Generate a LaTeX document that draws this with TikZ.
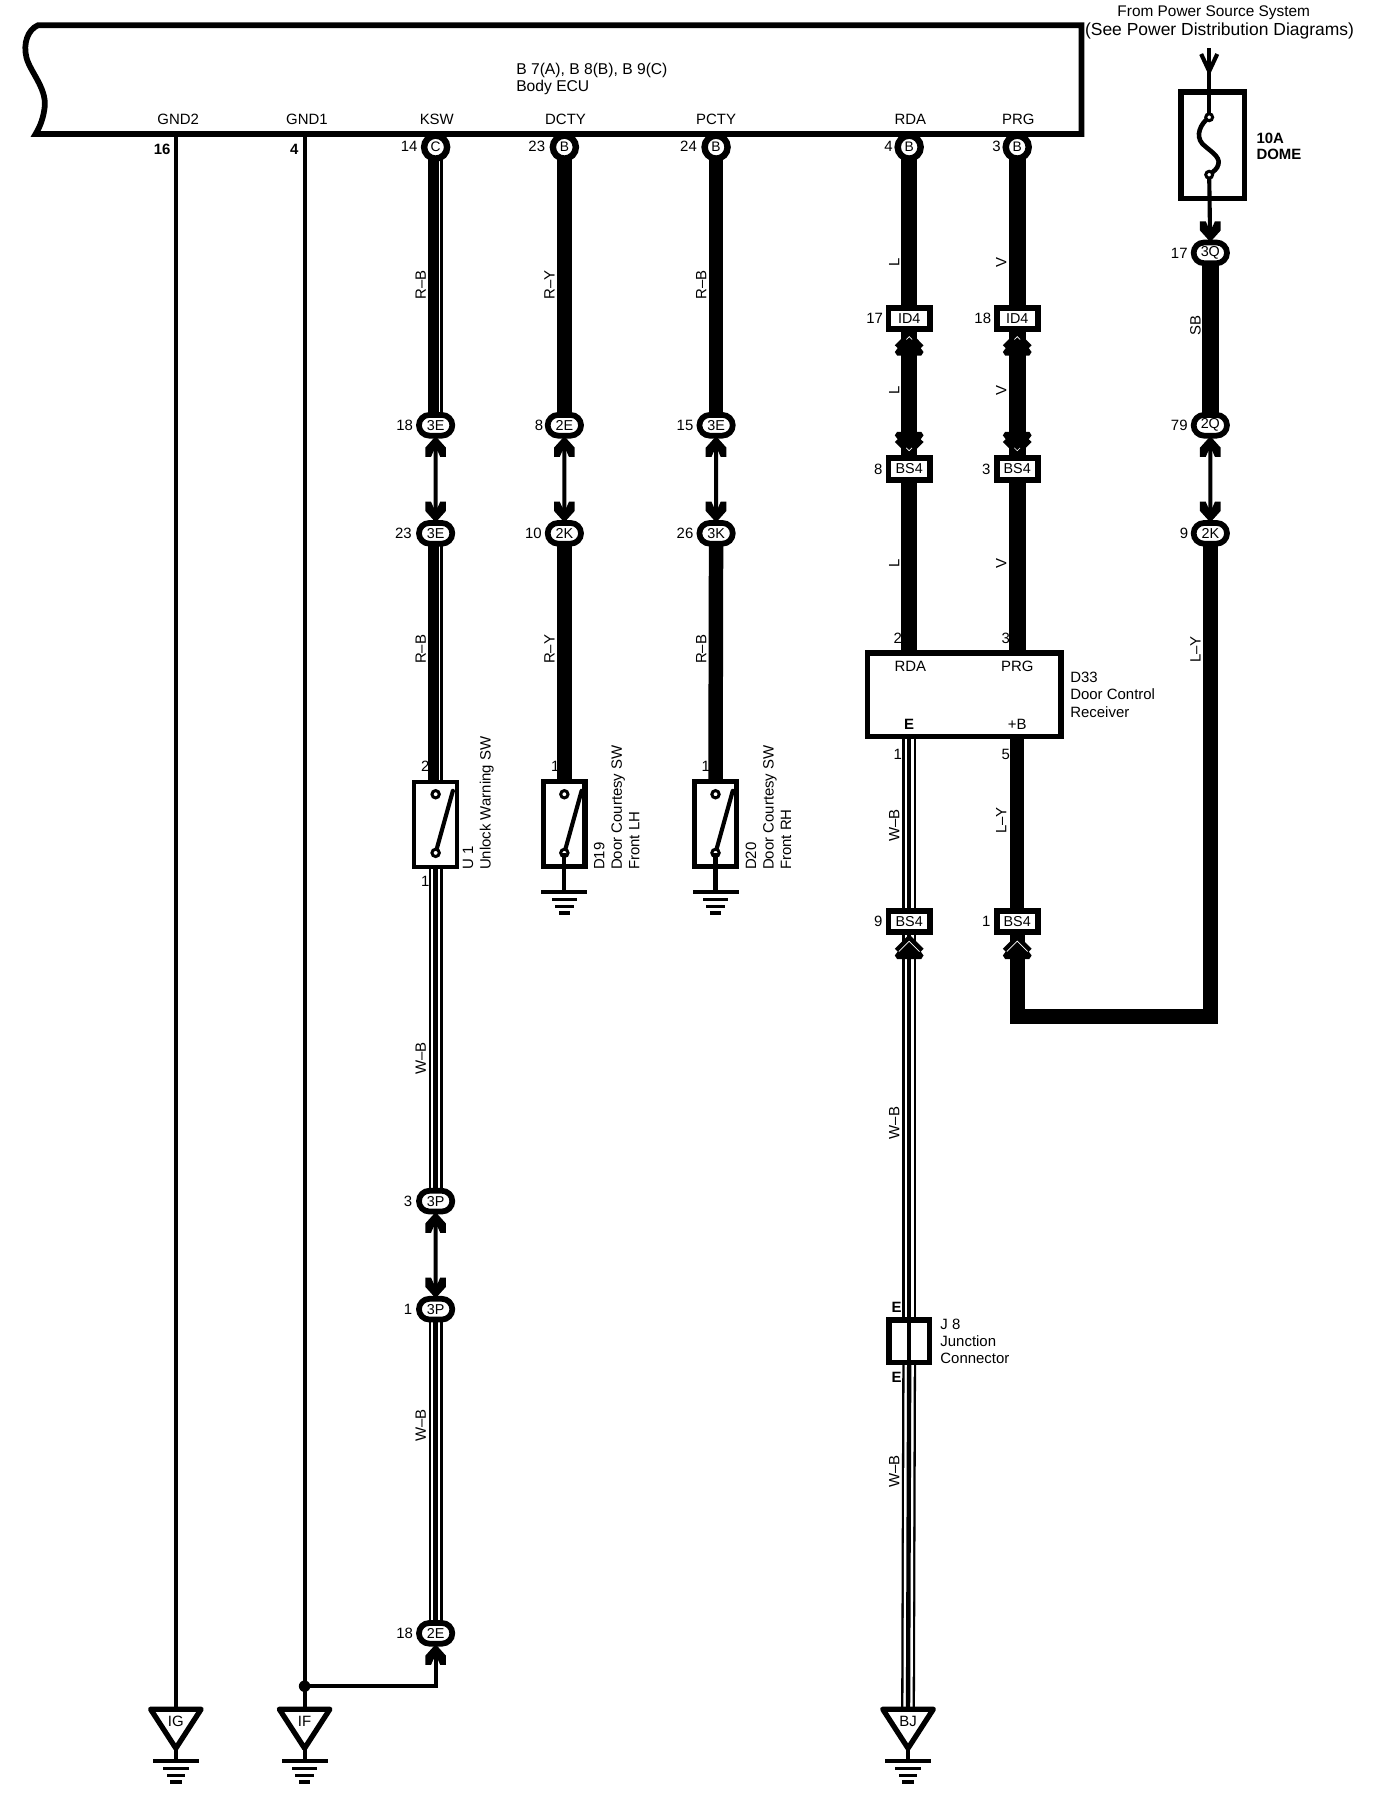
\documentclass[tikz,border=0pt]{standalone}
\usepackage{fontspec}
\setmainfont{Liberation Sans}
\usetikzlibrary{backgrounds,shapes.misc}

\tikzset{
    txt/.style={inner sep=0pt,font=\fontsize{13}{15.2}\selectfont},
    wirelbl/.style={txt,rotate=90},
    oval/.style={rounded rectangle,draw,fill=white,line width=5pt,minimum width=29pt,minimum height=18pt,inner sep=0pt,font=\fontsize{12.5}{14}\selectfont},
    disc/.style={circle,draw,fill=white,line width=5.6pt,minimum size=20pt,inner sep=0pt,font=\fontsize{12}{14}\selectfont},
    plug/.style={rectangle,draw,fill=white,line width=5.2pt,minimum width=36pt,minimum height=18.5pt,inner sep=0pt,font=\fontsize{12.5}{14}\selectfont},
    swbox/.style={rectangle,draw,line width=4.6pt,minimum width=36pt,minimum height=74pt,inner sep=0pt},
    thinwire/.style={line width=3.6pt},
    solidwire/.style={line width=12.6pt},
    heavywire/.style={line width=14.4pt},
    rbwire/.style={line width=13pt,postaction={draw=white,line width=1.2pt,transform canvas={xshift=3.4pt}}},
    wbwire/.style={line width=12pt,postaction={draw=white,line width=8pt},postaction={draw=black,line width=3.8pt}},
    groundbars/.pic={
        \fill (-20,-1.5) rectangle (20,1.5);
        \fill (-11,5.2) rectangle (11,8);
        \fill (-8,11) rectangle (8,14);
        \fill (-5,17) rectangle (5,20);
    },
    swblade/.pic={
        \draw[line width=3.6pt,line cap=round] (0,51) -- (15,-3);
        \draw[line width=2.6pt,fill=white] (0,0) circle (3.2pt);
        \draw[line width=2.6pt,fill=white] (0,51) circle (3.2pt);
    },
    tipfork/.pic={
        \fill (0,-2) -- (9,8) -- (9,16) -- (4,16) -- (1.8,11) -- (-1.8,11) -- (-4,16) -- (-9,16) -- (-9,8) -- cycle;
    },
    tipdbl/.pic={
        \fill (0,-1) -- (12.5,11.6) -- (10,14) -- (12.5,17.4) -- (10.5,20.5) -- (-10.5,20.5) -- (-12.5,17.4) -- (-10,14) -- (-12.5,11.6) -- cycle;
        \draw[white,line width=.6pt] (-2.5,6.5) -- (0,4) -- (2.5,6.5);
    },
    tipbig/.pic={
        \fill (0,-1) -- (12.5,11.6) -- (10,14) -- (12.5,17.4) -- (10.5,20.5) -- (-10.5,20.5) -- (-12.5,17.4) -- (-10,14) -- (-12.5,11.6) -- cycle;
        \draw[white,line width=.6pt] (-9,14) -- (0,5) -- (9,14);
    },
    trisym/.style={line width=4.6pt,line join=round}
}

\begin{document}
\begin{tikzpicture}[x=1pt,y=-1pt]
    \useasboundingbox (0,0) rectangle (1197,1569.5);

    % Body ECU
    \draw[line width=5pt,line join=miter] (33,22) .. controls (24,26) and (20,38) .. (23,50)
        .. controls (26,62) and (40,76) .. (39,92) .. controls (38,102) and (35,110) .. (31,116.5)
        -- (941,116.5) -- (941,22) -- cycle;
    \node[txt,anchor=west,font=\fontsize{13.6}{15.2}\selectfont,align=left] (ecutitle) at (449,68.5) {B 7(A), B 8(B), B 9(C)\\Body ECU};
    \node[txt] (pGndb) at (155,104) {GND2};
    \node[txt] (pGnda) at (267,104) {GND1};
    \node[txt] (pKsw) at (380,104) {KSW};
    \node[txt] (pDcty) at (492,104) {DCTY};
    \node[txt] (pPcty) at (623,104) {PCTY};
    \node[txt] (pRda) at (792,104) {RDA};
    \node[txt] (pPrg) at (886,104) {PRG};

    % Power source
    \node[txt,font=\fontsize{13.4}{15}\selectfont] (srca) at (1056,11) {From Power Source System};
    \node[txt,font=\fontsize{15.2}{15}\selectfont] (srcb) at (1061,27) {(See Power Distribution Diagrams)};
    \node[rectangle,draw,line width=4.6pt,minimum width=55pt,minimum height=93pt,inner sep=0pt] (fuse) at (1055,126.5) {};
    \node[txt,anchor=west,align=left,font=\fontsize{13}{14}\selectfont\bfseries] (fusetxt) at (1093,127) {10A\\DOME};
    \coordinate (pwrtop) at (1052,42);
    \coordinate (fusea) at (1052,102);
    \coordinate (fuseb) at (1052,152);
    \draw[thinwire] (pwrtop) -- (fusea);
    \draw[thinwire] (1045,47) -- (1052,62) -- (1059,47);
    \draw[line width=4pt] (fusea) .. controls (1044,108) and (1040,118) .. (1046,125)
        .. controls (1052,131) and (1062,136) .. (1060,143) .. controls (1059,147) and (1056,149) .. (fuseb);
    \draw[line width=2.6pt,fill=white] (fusea) circle (3pt);
    \draw[line width=2.6pt,fill=white] (fuseb) circle (3pt);

    % Connectors on the ECU
    \node[disc] (cKsw) at (379,128) {C};
    \node[disc] (cDcty) at (491,128) {B};
    \node[disc] (cPcty) at (623,128) {B};
    \node[disc] (cRda) at (791,128) {B};
    \node[disc] (cPrg) at (885,128) {B};
    \node[txt] (nGndb) at (141,130) {\bfseries 16};
    \node[txt] (nGnda) at (256,130) {\bfseries 4};
    \node[txt] (nKsw) at (356,127) {14};
    \node[txt] (nDcty) at (467,127) {23};
    \node[txt] (nPcty) at (599,127) {24};
    \node[txt] (nRda) at (773,127) {4};
    \node[txt] (nPrg) at (867,127) {3};

    % Inline connectors
    \node[oval] (kswa) at (379,370) {3E};
    \node[oval] (kswb) at (379,464) {3E};
    \node[oval] (dctya) at (491,370) {2E};
    \node[oval] (dctyb) at (491,464) {2K};
    \node[oval] (pctya) at (623,370) {3E};
    \node[oval] (pctyb) at (623,464) {3K};
    \node[oval] (kswc) at (379,1045) {3P};
    \node[oval] (kswd) at (379,1139) {3P};
    \node[oval] (kswe) at (379,1421) {2E};
    \node[oval] (domea) at (1053,220) {3Q};
    \node[oval] (domeb) at (1053,370) {2Q};
    \node[oval] (domec) at (1053,464) {2K};
    \node[txt] (nKswa) at (352,370) {18};
    \node[txt] (nKswb) at (351,464) {23};
    \node[txt] (nDctya) at (469,370) {8};
    \node[txt] (nDctyb) at (464,464) {10};
    \node[txt] (nPctya) at (596,370) {15};
    \node[txt] (nPctyb) at (596,464) {26};
    \node[txt] (nKswc) at (355,1045) {3};
    \node[txt] (nKswd) at (355,1139) {1};
    \node[txt] (nKswe) at (352,1421) {18};
    \node[txt] (nDomea) at (1026,220) {17};
    \node[txt] (nDomeb) at (1026,370) {79};
    \node[txt] (nDomec) at (1030,464) {9};

    \node[plug] (rdaa) at (791,277) {ID4};
    \node[plug] (prga) at (885,277) {ID4};
    \node[plug] (rdab) at (791,408) {BS4};
    \node[plug] (prgb) at (885,408) {BS4};
    \node[plug] (rdac) at (791,802) {BS4};
    \node[plug] (prgc) at (885,802) {BS4};
    \node[txt] (nRdaa) at (761,277) {17};
    \node[txt] (nPrga) at (855,277) {18};
    \node[txt] (nRdab) at (764,408) {8};
    \node[txt] (nPrgb) at (858,408) {3};
    \node[txt] (nRdac) at (764,802) {9};
    \node[txt] (nPrgc) at (858,802) {1};

    % Door Control Receiver
    \node[rectangle,draw,fill=white,line width=4.6pt,minimum width=168pt,minimum height=73pt,inner sep=0pt] (recv) at (839,604.5) {};
    \node[txt] (recvrda) at (792,580) {RDA};
    \node[txt] (recvprg) at (885,580) {PRG};
    \node[txt] (recve) at (791,630) {\bfseries E};
    \node[txt] (recvb) at (885,630) {+B};
    \node[txt,anchor=west,align=left] (recvtxt) at (931,604.5) {D33\\Door Control\\Receiver};
    \node[txt] (nRecva) at (781,555) {2};
    \node[txt] (nRecvb) at (875,555) {3};
    \node[txt] (nRecvc) at (781,656) {1};
    \node[txt] (nRecvd) at (875,656) {5};
    \coordinate (recvouta) at (791,643);
    \coordinate (recvoutb) at (885,643);

    % Switches
    \node[swbox,line width=3.4pt,minimum width=37pt] (swu) at (379,717) {};
    \node[swbox] (swd) at (491,717) {};
    \node[swbox] (swe) at (622.5,717) {};
    \pic at (379,691) {swblade};
    \pic at (491,691) {swblade};
    \pic at (622.5,691) {swblade};
    \node[txt] (nSwa) at (370,667) {2};
    \node[txt] (nSwb) at (370,767) {1};
    \node[txt] (nSwd) at (483,667) {1};
    \node[txt] (nSwe) at (614,667) {1};
    \node[wirelbl,anchor=north west,align=left] (swutxt) at (402.5,757) {U 1\\Unlock Warning SW};
    \node[wirelbl,anchor=north west,align=left] (swdtxt) at (516.5,757) {D19\\Door Courtesy SW\\Front LH};
    \node[wirelbl,anchor=north west,align=left] (swetxt) at (648.5,757) {D20\\Door Courtesy SW\\Front RH};
    \coordinate (swdin) at (491,680);
    \coordinate (swein) at (622.5,680);
    \coordinate (swuin) at (379,680);
    \coordinate (swuout) at (379,755);
    \coordinate (swdgnd) at (491,776);
    \coordinate (swegnd) at (622.5,776);
    \coordinate (swdout) at (491,742);
    \coordinate (sweout) at (622.5,742);
    \draw[thinwire] (swdout) -- (swdgnd);
    \draw[thinwire] (sweout) -- (swegnd);
    \pic at (swdgnd) {groundbars};
    \pic at (swegnd) {groundbars};

    % Junction connector
    \node[rectangle,draw,line width=4.6pt,minimum width=35pt,minimum height=37pt,inner sep=0pt] (jeight) at (791,1167) {};
    \node[txt] (jtop) at (780,1137) {\bfseries E};
    \node[txt] (jbot) at (780,1198) {\bfseries E};
    \node[txt,anchor=west,align=left] (jtxt) at (818,1167) {J 8\\Junction\\Connector};
    \coordinate (jtopin) at (791,1148);
    \coordinate (jbotout) at (791,1187);

    % Ground triangles
    \coordinate (gndg) at (153,1487);
    \coordinate (gndf) at (265,1487);
    \coordinate (gndj) at (790,1487);
    \draw[trisym] (131,1487) -- (175,1487) -- (153,1521) -- cycle;
    \draw[trisym] (243,1487) -- (287,1487) -- (265,1521) -- cycle;
    \draw[trisym] (768,1487) -- (812,1487) -- (790,1521) -- cycle;
    \node[txt] (gndgtxt) at (153,1498) {IG};
    \node[txt] (gndftxt) at (265,1498) {IF};
    \node[txt] (gndjtxt) at (790,1498) {BJ};
    \draw[thinwire] (153,1521) -- (153,1531);
    \draw[thinwire] (265,1521) -- (265,1531);
    \draw[thinwire] (790,1521) -- (790,1531);
    \pic at (153,1532) {groundbars};
    \pic at (265,1532) {groundbars};
    \pic at (790,1532) {groundbars};

    % Wires
    \coordinate (gndbtop) at (153,118);
    \coordinate (gndatop) at (265,118);
    \coordinate (joint) at (265,1467);
    \coordinate (jointb) at (379,1467);
    \draw[thinwire] (gndbtop) -- (gndg);
    \draw[thinwire] (gndatop) -- (gndf);
    \fill (joint) circle (5pt);
    \draw[thinwire] (kswe) -- (jointb) -- (joint);

    \begin{scope}[on background layer]
        \draw[rbwire] (cKsw.center) -- (kswa.center);
        \draw[thinwire] (kswa) -- (kswb);
        \draw[rbwire] (kswb.center) -- (swuin);
        \draw[wbwire] (swuout) -- (kswc.center);
        \draw[thinwire] (kswc) -- (kswd);
        \draw[wbwire] (kswd.center) -- (kswe.center);

        \draw[solidwire] (cDcty.center) -- (dctya.center);
        \draw[thinwire] (dctya) -- (dctyb);
        \draw[solidwire] (dctyb.center) -- (swdin);

        \draw[solidwire] (cPcty.center) -- (pctya.center);
        \draw[thinwire] (pctya) -- (pctyb);
        \draw[solidwire] (pctyb.center) -- (swein);

        \draw[heavywire] (cRda.center) -- (rdaa.center);
        \draw[heavywire] (rdaa) -- (rdab);
        \draw[heavywire] (rdab.center) -- (recv.north -| rdab);
        \draw[heavywire] (cPrg.center) -- (prga.center);
        \draw[heavywire] (prga) -- (prgb);
        \draw[heavywire] (prgb.center) -- (recv.north -| prgb);

        \draw[wbwire] (recvouta) -- (rdac.center);
        \draw[wbwire] (rdac.center) -- (jtopin);
        \draw[line width=3.8pt] (jtopin) -- (jbotout);
        \draw[wbwire] (jbotout) -- (gndj);

        \draw[solidwire] (recvoutb) -- (prgc.center);
        \draw[line width=13pt,line join=miter] (prgc.center) -- (885,884.5) -- (1053,884.5) -- (domec.center);

        \draw[thinwire] (fuseb) -- (domea);
        \draw[heavywire] (domea.center) -- (domeb.center);
        \draw[thinwire] (domeb) -- (domec);
    \end{scope}

    % Arrow forks
    \pic at (kswa.south) {tipfork};
    \pic[yscale=-1] at (kswb.north) {tipfork};
    \pic at (dctya.south) {tipfork};
    \pic[yscale=-1] at (dctyb.north) {tipfork};
    \pic at (pctya.south) {tipfork};
    \pic[yscale=-1] at (pctyb.north) {tipfork};
    \pic at (kswc.south) {tipfork};
    \pic[yscale=-1] at (kswd.north) {tipfork};
    \pic at (kswe.south) {tipfork};
    \pic[yscale=-1] at (domea.north) {tipfork};
    \pic at (domeb.south) {tipfork};
    \pic[yscale=-1] at (domec.north) {tipfork};
    \pic at (rdaa.south) {tipdbl};
    \pic[yscale=-1] at (rdab.north) {tipdbl};
    \pic at (prga.south) {tipdbl};
    \pic[yscale=-1] at (prgb.north) {tipdbl};
    \pic at (rdac.south) {tipbig};
    \pic at (prgc.south) {tipbig};

    % Wire colours
    \node[wirelbl] (wa) at (366,248) {R--B};
    \node[wirelbl] (wb) at (478,248) {R--Y};
    \node[wirelbl] (wc) at (610,248) {R--B};
    \node[wirelbl] (wd) at (778,228) {L};
    \node[wirelbl] (we) at (871,228) {V};
    \node[wirelbl] (wf) at (778,340) {L};
    \node[wirelbl] (wg) at (871,340) {V};
    \node[wirelbl] (wh) at (778,490) {L};
    \node[wirelbl] (wi) at (871,490) {V};
    \node[wirelbl] (wj) at (366,565) {R--B};
    \node[wirelbl] (wk) at (478,565) {R--Y};
    \node[wirelbl] (wl) at (610,565) {R--B};
    \node[wirelbl] (wm) at (1040,283) {SB};
    \node[wirelbl] (wn) at (1040,565) {L--Y};
    \node[wirelbl] (wo) at (778,718) {W--B};
    \node[wirelbl] (wp) at (871,714) {L--Y};
    \node[wirelbl] (wq) at (366,921) {W--B};
    \node[wirelbl] (wr) at (366,1240) {W--B};
    \node[wirelbl] (ws) at (778,977) {W--B};
    \node[wirelbl] (wt) at (778,1280) {W--B};
\end{tikzpicture}
\end{document}
